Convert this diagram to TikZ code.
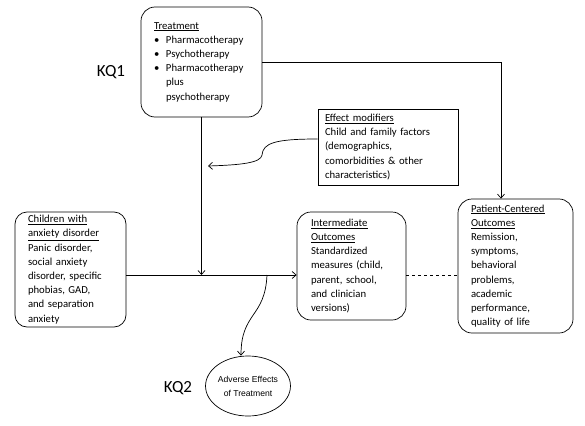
\documentclass[tikz,border=0pt]{standalone}
\usepackage{fontspec}
\setmainfont{Carlito}
\newfontfamily\arialfont{Liberation Sans}
\usepackage{tikz}
\usetikzlibrary{arrows.meta}
\usetikzlibrary{calc}
\usetikzlibrary{positioning}
\usetikzlibrary{shapes}

\begin{document}
\begin{tikzpicture}[x=1pt,y=-1pt,
    every node/.style={font=\fontsize{10.7}{14.2}\selectfont},
    outcome/.style={draw,rounded corners=14pt,align=left,inner sep=0pt,line width=0.7pt},
    modbox/.style={draw,align=left,inner sep=0pt,line width=0.7pt},
    flow/.style={line width=0.7pt,-{Straight Barb[length=4pt,width=7pt]}},
    kq/.style={font=\fontsize{17}{20}\selectfont}]
      \useasboundingbox (0,0) rectangle (585,425);
      \node[outcome,minimum width=121pt,minimum height=110pt,text width=95pt] (treatment) at (201.5,62) {\underline{Treatment}\\
        \makebox[12pt][l]{\textbullet}Pharmacotherapy\\
        \makebox[12pt][l]{\textbullet}Psychotherapy\\
        \makebox[12pt][l]{\textbullet}Pharmacotherapy\\
        \hspace*{12pt}plus\\
        \hspace*{12pt}psychotherapy};
      \node[modbox,minimum width=140pt,minimum height=76pt,text width=126pt] (effectModifiers) at (388,147) {\underline{Effect modifiers}\\
        Child and family factors\\(demographics,\\comorbidities \& other\\characteristics)};
      \node[outcome,rounded corners=12pt,minimum width=111pt,minimum height=115pt,text width=85pt] (children) at (70.5,269.5) {\underline{Children with}\\
        \underline{anxiety disorder}\\Panic disorder,\\social anxiety\\disorder, specific\\phobias, GAD,\\and separation\\anxiety};
      \node[outcome,minimum width=109pt,minimum height=108pt,text width=81pt] (intermediate) at (351.5,266) {\underline{Intermediate}\\
        \underline{Outcomes}\\Standardized\\measures (child,\\parent, school,\\and clinician\\versions)};
      \node[outcome,minimum width=115pt,minimum height=134pt,text width=89pt] (patientOutcomes) at (515.5,266) {\underline{Patient-Centered}\\
        \underline{Outcomes}\\Remission,\\symptoms,\\behavioral\\problems,\\academic\\performance,\\quality of life};
      \node[draw,ellipse,line width=0.7pt,minimum width=70pt,minimum height=60pt,inner sep=0pt,align=center,
        font=\arialfont\fontsize{8.6}{14}\selectfont] (adverseEffects) at (248,386) {Adverse Effects\\of Treatment};
      \node[kq] (kqOne) at (111,72) {KQ1};
      \node[kq] (kqTwo) at (178,388) {KQ2};
      \coordinate (axis) at (0,275);
      \coordinate (branch) at (267,275);
      \coordinate (bend) at (262,155);
      \coordinate (modTip) at (208,166);
      \draw[flow] (children.east |- axis) -- (intermediate.west |- axis);
      \draw[flow] (treatment.south) -- (treatment.south |- axis);
      \draw[flow] (treatment.east) -| ([xshift=-14.5pt]patientOutcomes.north);
      \draw[line width=0.7pt,dashed] (intermediate.east |- axis) -- (patientOutcomes.west |- axis);
      \draw[flow] ([yshift=8pt]effectModifiers.west) .. controls (275,139) and (263,143) .. (bend)
        .. controls (261,163) and (240,165) .. (modTip);
      \draw[flow] (branch) .. controls (265,318) and (241,312) .. ([xshift=-7pt]adverseEffects.north);
    \end{tikzpicture}
\end{document}
